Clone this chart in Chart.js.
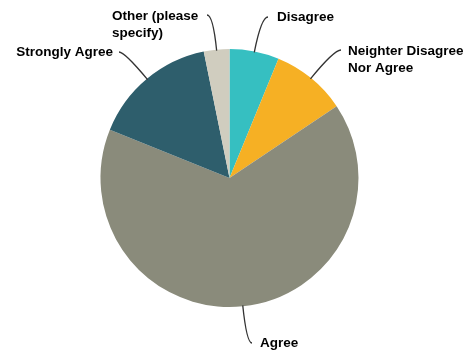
<!DOCTYPE html>
<html>
<head>
<meta charset="utf-8">
<script src="https://cdn.jsdelivr.net/npm/chart.js@4.4.0/dist/chart.umd.min.js"></script>
<style>
  html, body { margin: 0; padding: 0; background: #fff; }
  #wrap { width: 472px; height: 354px; }
</style>
</head>
<body>
<div id="wrap"><canvas id="pieChart" width="472" height="354"></canvas></div>
<script>
// survey answers, clockwise from 12 o'clock
const respuestas = ['Disagree', 'Neighter Disagree Nor Agree', 'Agree', 'Strongly Agree', 'Other (please specify)'];
const porcentajes = [6.2, 9.4, 65.5, 15.7, 3.2];
const colores = ['#36BFC1', '#F6B024', '#8A8B7B', '#2E5E6C', '#D0CDBF'];

// label text lines and where each one sits (ly = y where the leader ends)
const etiquetas = [
    { lines: ['Disagree'], x: 277, y: 17, align: 'left', lx: 268, ly: 17 },
    { lines: ['Neighter Disagree', 'Nor Agree'], x: 348, y: 51, align: 'left', lx: 341, ly: 50 },
    { lines: ['Agree'], x: 260, y: 343, align: 'left', lx: 252, ly: 343 },
    { lines: ['Strongly Agree'], x: 113, y: 52, align: 'right', lx: 119, ly: 52 },
    { lines: ['Other (please', 'specify)'], x: 112, y: 16, align: 'left', lx: 207, ly: 15 }
];

const etiquetasPlugin = {
    id: 'etiquetasConLinea',
    afterDraw(chart) {
        const ctx = chart.ctx;
        const arcs = chart.getDatasetMeta(0).data;
        ctx.save();
        arcs.forEach((arc, i) => {
            const et = etiquetas[i];
            const { x, y, startAngle, endAngle, outerRadius } = arc.getProps(['x', 'y', 'startAngle', 'endAngle', 'outerRadius'], true);
            const mid = (startAngle + endAngle) / 2;
            const dx = Math.cos(mid), dy = Math.sin(mid);
            const ex = x + dx * (outerRadius - 1);
            const ey = y + dy * (outerRadius - 1);
            // control point: radial ray meets the label row
            const t = (et.ly - ey) / dy;
            const cx = ex + dx * t;

            ctx.beginPath();
            ctx.moveTo(ex, ey);
            ctx.quadraticCurveTo(cx, et.ly, et.lx, et.ly);
            ctx.strokeStyle = '#333';
            ctx.lineWidth = 1.3;
            ctx.stroke();

            ctx.fillStyle = '#000';
            ctx.font = 'bold 13.5px "Liberation Sans", Arial, sans-serif';
            ctx.textAlign = et.align;
            ctx.textBaseline = 'middle';
            et.lines.forEach((linea, k) => {
                ctx.fillText(linea, et.x, et.y + k * 17);
            });
        });
        ctx.restore();
    }
};

new Chart(document.getElementById('pieChart').getContext('2d'), {
    type: 'pie',
    data: {
        labels: respuestas,
        datasets: [{
            data: porcentajes,
            backgroundColor: colores,
            borderWidth: 0
        }]
    },
    options: {
        responsive: false,
        devicePixelRatio: 1,
        animation: false,
        layout: { padding: { left: 100, right: 113, top: 49, bottom: 47 } },
        plugins: {
            legend: { display: false },
            tooltip: { enabled: false }
        }
    },
    plugins: [etiquetasPlugin]
});
</script>
</body>
</html>
